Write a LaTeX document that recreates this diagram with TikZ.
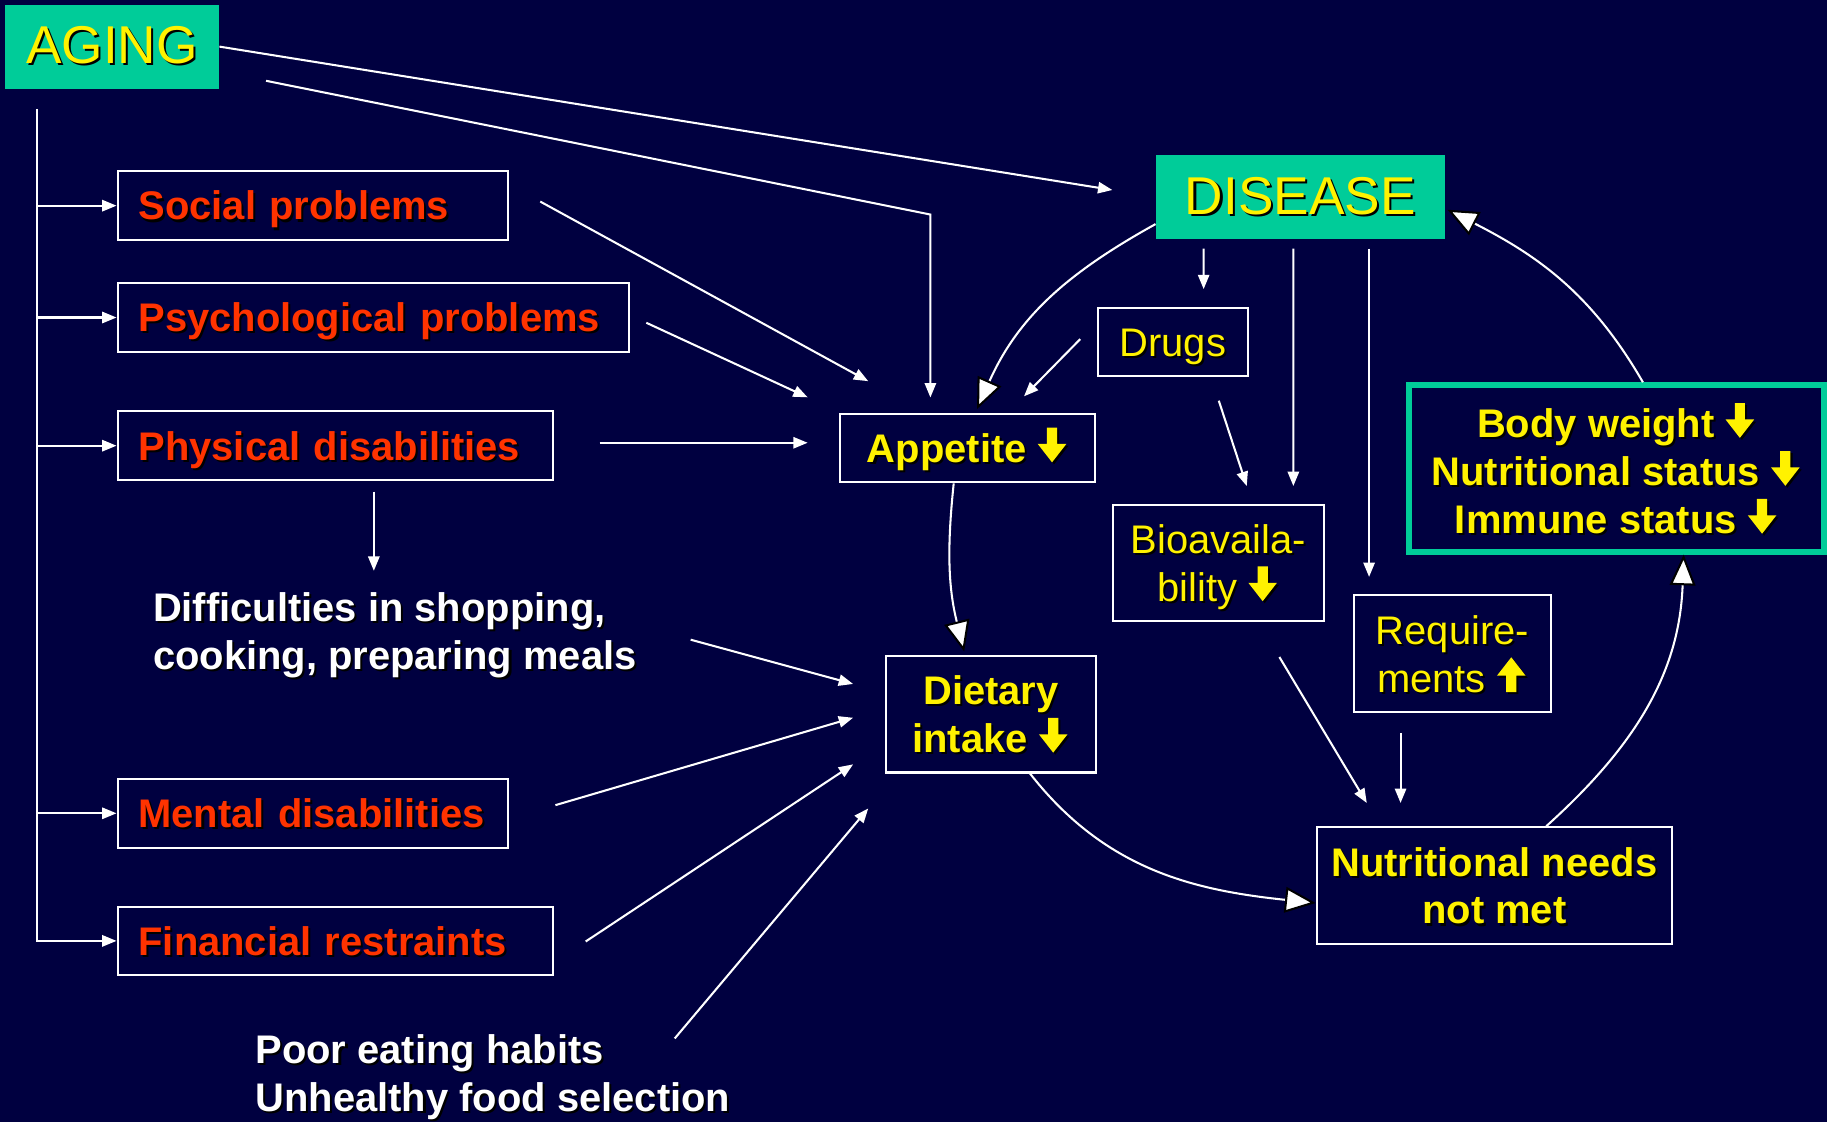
\documentclass[tikz,border=0pt]{standalone}
\usepackage{fontspec}
\setmainfont{Liberation Sans}
\usetikzlibrary{arrows.meta}

\definecolor{navy}{RGB}{0,0,64}
\definecolor{tealgreen}{RGB}{0,204,153}
\definecolor{redtext}{RGB}{255,51,0}

\newcommand\bodysize{\fontsize{19.5}{23.4}\selectfont}
\newcommand\shdw[1]{\makebox[0pt][l]{\kern1pt\raisebox{-1pt}{\color{black}#1}}#1}
\newcommand\dnarr{\tikz[x=1pt,y=1pt,baseline=0pt]{
  \fill[black] (5.5,16) -- (10.5,16) -- (10.5,8) -- (15,8) -- (8,-1) -- (1,8) -- (5.5,8) -- cycle;
  \fill[yellow] (4.5,17) -- (9.5,17) -- (9.5,9) -- (14,9) -- (7,0) -- (0,9) -- (4.5,9) -- cycle;}}
\newcommand\uparr{\tikz[x=1pt,y=1pt,baseline=0pt]{
  \fill[black] (5.5,-1) -- (10.5,-1) -- (10.5,7) -- (15,7) -- (8,16) -- (1,7) -- (5.5,7) -- cycle;
  \fill[yellow] (4.5,0) -- (9.5,0) -- (9.5,8) -- (14,8) -- (7,17) -- (0,8) -- (4.5,8) -- cycle;}}

\begin{document}
\begin{tikzpicture}[x=0.02cm, y=0.02cm,
    tealbox/.style={fill=tealgreen, text=yellow, font=\fontsize{26}{30}\selectfont, minimum height=1.44cm},
    redbox/.style={draw=white, line width=1pt, text=redtext, font=\bodysize\bfseries, anchor=west,
      align=left, inner xsep=0.36cm, minimum height=1.18cm, text height=14pt, text depth=0pt},
    yelbox/.style={draw=white, line width=1pt, text=yellow, font=\bodysize, align=center, inner sep=0pt, text depth=0pt},
    oneline/.style={text height=14pt},
    whitetxt/.style={text=white, font=\bodysize\bfseries, anchor=west, align=left, inner sep=0pt},
    arr/.style={white, line width=1pt, -{Triangle[length=7pt,width=5.5pt]}},
    bigarr/.style={white, line width=1pt, -{Triangle[length=15pt,width=12.5pt,fill=white,color=black,line width=1pt]}}]

  \useasboundingbox (0,0) rectangle (1568,-963);
  \fill[navy] (0,0) rectangle (1568,-963);

  % main boxes
  \node[tealbox, minimum width=3.68cm] (aging) at (96,-40) {\shdw{AGING}};
  \node[tealbox, minimum width=4.96cm] (disease) at (1116,-169) {\shdw{DISEASE}};

  % causes on the left
  \node[redbox, text width=5.98cm] (social) at (100,-176.5) {\shdw{Social problems}};
  \node[redbox, text width=8.06cm] (psych) at (100,-272.5) {\shdw{Psychological problems}};
  \node[redbox, text width=6.76cm] (phys) at (100,-382.5) {\shdw{Physical disabilities}};
  \node[redbox, text width=5.98cm] (mental) at (100,-698) {\shdw{Mental disabilities}};
  \node[redbox, text width=6.76cm] (fin) at (100,-807.5) {\shdw{Financial restraints}};

  \node[whitetxt] (diff) at (131,-546) {\shdw{Difficulties in shopping,}\\\shdw{cooking, preparing meals}};
  \node[whitetxt] (poor) at (219,-925) {\shdw{Poor eating habits}\\\shdw{Unhealthy food selection}};

  % the cycle
  \node[yelbox, oneline, font=\bodysize\bfseries, minimum width=4.38cm, minimum height=1.18cm] (appetite) at (830.5,-384.5) {\shdw{Appetite}~\dnarr};
  \node[yelbox, oneline, minimum width=2.58cm, minimum height=1.18cm] (drugs) at (1006.5,-293.5) {\shdw{Drugs}};
  \node[yelbox, minimum width=3.62cm, minimum height=2cm] (bioav) at (1045.5,-483) {\shdw{Bioavaila-}\\\shdw{bility}~\dnarr};
  \node[yelbox, minimum width=3.38cm, minimum height=2cm] (req) at (1246.5,-561) {\shdw{Require-}\\\shdw{ments}~\uparr};
  \node[yelbox, font=\bodysize\bfseries, minimum width=3.62cm, minimum height=2cm] (dietary) at (850.5,-613) {\shdw{Dietary}\\\shdw{intake}~\dnarr};
  \node[yelbox, font=\bodysize\bfseries, minimum width=6.1cm, minimum height=2cm] (needs) at (1282.5,-760) {\shdw{Nutritional needs}\\\shdw{not met}};
  \node[yelbox, draw=tealgreen, line width=2.8pt, font=\bodysize\bfseries, minimum width=7.12cm, minimum height=2.86cm] (status) at (1387.5,-402)
    {\shdw{Body weight}~\dnarr\\\shdw{Nutritional status}~\dnarr\\\shdw{Immune status}~\dnarr};

  % aging branches
  \coordinate (trunk) at ([shift={(28,-17)}]aging.south west);
  \foreach \b in {social,psych,phys,mental}
    \draw[arr] (trunk |- \b.west) -- (\b.west);
  \draw[arr] (trunk) |- (fin.west);

  \draw[arr, shorten >=0.75cm] (aging.east) -- (disease.west);
  \draw[arr] ([shift={(40,7)}]aging.south east) -- ([shift={(-32,170)}]appetite.north) -- ([shift={(-32,13)}]appetite.north);

  % into appetite
  \draw[arr] ([shift={(27,3.5)}]social.east) -- ([shift={(25,27)}]appetite.north west);
  \draw[arr] ([shift={(14,-4.5)}]psych.east) -- ([shift={(-27,43.5)}]appetite.west);
  \draw[arr] ([shift={(39,2.5)}]phys.east) -- ([shift={(-27,4.5)}]appetite.west);
  \draw[arr] ([shift={(-14,2.5)}]drugs.west) -- ([shift={(-62,14)}]appetite.north east);
  \draw[arr] ([shift={(33,-9)}]phys.south) -- ++(0,-68);

  % into dietary intake
  \draw[arr] ([shift={(46,-3)}]diff.east) -- ([shift={(-27,26)}]dietary.west);
  \draw[arr] ([shift={(40,7)}]mental.east) -- ([shift={(-27,-3)}]dietary.west);
  \draw[arr] ([shift={(27,-0.5)}]fin.east) -- ([shift={(-27,-43)}]dietary.west);
  \draw[arr] ([shift={(-48,-4)}]poor.north east) -- ([shift={(-14,-30)}]dietary.south west);

  % disease side
  \draw[arr] ([shift={(-83,-8)}]disease.south) -- ([shift={(26.5,15)}]drugs.north);
  \draw[arr] ([shift={(-6,-8)}]disease.south) -- ([shift={(64.5,15)}]bioav.north);
  \draw[arr] ([shift={(59,-8)}]disease.south) -- ([shift={(-71.5,15)}]req.north);
  \draw[arr] ([shift={(39.5,-20)}]drugs.south) -- ([shift={(24.5,15)}]bioav.north);
  \draw[arr] ([shift={(52.5,-30)}]bioav.south) -- ([shift={(-109.5,20)}]needs.north);
  \draw[arr] ([shift={(-44.5,-17)}]req.south) -- ([shift={(-80.5,20)}]needs.north);

  % big cycle arrows
  \draw[bigarr] ([shift={(0,13)}]disease.south west) to[out=209,in=66] ([shift={(8,3)}]appetite.north);
  \draw[bigarr] ([shift={(-12,0)}]appetite.south) to[out=264,in=104] ([shift={(-23,3)}]dietary.north);
  \draw[bigarr] ([shift={(33.5,0)}]dietary.south) to[out=-52,in=174] ([shift={(0,-15)}]needs.west);
  \draw[bigarr] ([shift={(44.5,0)}]needs.north) to[out=42,in=268] ([shift={(57.5,0)}]status.south);
  \draw[bigarr] ([shift={(22.5,0)}]status.north) to[out=120,in=-27] ([shift={(2,-11)}]disease.east);
\end{tikzpicture}
\end{document}
